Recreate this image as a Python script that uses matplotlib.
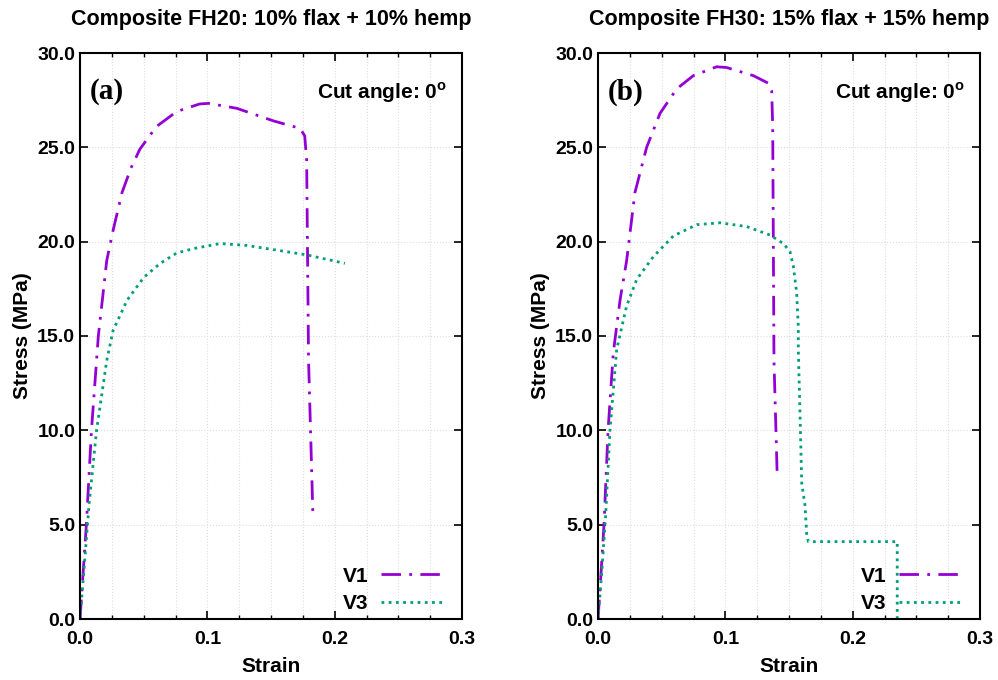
import numpy as np
import matplotlib
matplotlib.use("Agg")
import matplotlib.pyplot as plt
from matplotlib.ticker import MultipleLocator, FormatStrFormatter

plt.rcParams['font.family'] = ['Liberation Sans', 'DejaVu Sans']
plt.rcParams['font.weight'] = 'bold'
plt.rcParams['mathtext.fontset'] = 'custom'
plt.rcParams['mathtext.rm'] = 'Liberation Sans:bold'
plt.rcParams['mathtext.bf'] = 'Liberation Sans:bold'

# Data (strain, stress in MPa)
fh20_v1_strain = [0.0, 0.002, 0.005, 0.009, 0.0144, 0.021, 0.026, 0.033, 0.040, 0.047, 0.060,
                  0.076, 0.094, 0.101, 0.123, 0.152, 0.173, 0.1765, 0.178, 0.1795, 0.183]
fh20_v1_stress = [0.0, 2.0, 5.0, 10.0, 15.0, 19.0, 20.6, 22.6, 23.9, 24.9, 26.1,
                  26.9, 27.3, 27.33, 27.07, 26.4, 26.0, 25.6, 24.3, 13.7, 5.3]

fh20_v3_strain = [0.0, 0.003, 0.007, 0.013, 0.021, 0.026, 0.037, 0.050, 0.063, 0.076,
                  0.089, 0.110, 0.131, 0.1545, 0.178, 0.208]
fh20_v3_stress = [0.0, 2.5, 6.0, 10.0, 13.7, 15.3, 16.9, 18.1, 18.85, 19.4,
                  19.63, 19.9, 19.8, 19.55, 19.3, 18.85]

fh30_v1_strain = [0.0, 0.002, 0.0047, 0.0079, 0.012, 0.0173, 0.0225, 0.029, 0.0382, 0.0487,
                  0.0618, 0.0749, 0.0932, 0.101, 0.122, 0.1337, 0.1364, 0.1372, 0.1382, 0.1408]
fh30_v1_stress = [0.0, 2.0, 5.0, 10.0, 14.1, 16.9, 19.0, 22.6, 25.0, 26.8,
                  28.1, 28.8, 29.27, 29.23, 28.8, 28.4, 28.0, 26.1, 13.7, 7.45]

fh30_v3_strain = [0.0, 0.003, 0.006, 0.0094, 0.0147, 0.0225, 0.0304, 0.0434, 0.0591, 0.0775,
                  0.0958, 0.1168, 0.1351, 0.1456, 0.1508, 0.1534, 0.156, 0.1573, 0.1573,
                  0.1587, 0.160, 0.1626, 0.164, 0.1652, 0.2350, 0.2350]
fh30_v3_stress = [0.0, 2.5, 5.5, 10.0, 14.3, 16.6, 18.0, 19.2, 20.3, 20.9,
                  21.0, 20.8, 20.35, 19.9, 19.47, 18.7, 17.3, 15.5, 14.3,
                  10.7, 7.2, 6.0, 4.4, 4.1, 4.1, 0.0]

panels = [
    ("Composite FH20: 10% flax + 10% hemp", "(a)",
     fh20_v1_strain, fh20_v1_stress, fh20_v3_strain, fh20_v3_stress),
    ("Composite FH30: 15% flax + 15% hemp", "(b)",
     fh30_v1_strain, fh30_v1_stress, fh30_v3_strain, fh30_v3_stress),
]

fig = plt.figure(figsize=(9.98, 6.8), dpi=100)
lefts = [80 / 998, 598 / 998]

for left, (title, tag, x1, y1, x3, y3) in zip(lefts, panels):
    ax = fig.add_axes([left, 61 / 680, 382 / 998, 566 / 680])
    ax.plot(x1, y1, color="#9400d3", lw=2.0, linestyle=(0, (7, 3, 1, 3)), label="V1")
    ax.plot(x3, y3, color="#009e73", lw=2.0, linestyle=(0, (1, 1.6)), label="V3")

    ax.set_xlim(0, 0.3)
    ax.set_ylim(0, 30)
    ax.xaxis.set_major_locator(MultipleLocator(0.1))
    ax.xaxis.set_minor_locator(MultipleLocator(0.025))
    ax.yaxis.set_major_locator(MultipleLocator(5))
    ax.xaxis.set_major_formatter(FormatStrFormatter("%.1f"))
    ax.yaxis.set_major_formatter(FormatStrFormatter("%.1f"))
    ax.tick_params(which="both", direction="in", top=True, right=True, labelsize=14)
    ax.tick_params(which="major", length=6, width=1.2)
    ax.tick_params(which="minor", length=3, width=1.0)
    ax.tick_params(axis="x", pad=9)
    ax.grid(True, which="both", axis="x", color="#dddddd", linestyle=":", linewidth=0.8)
    ax.grid(True, which="major", axis="y", color="#dddddd", linestyle=":", linewidth=0.8)
    for s in ax.spines.values():
        s.set_linewidth(1.5)

    ax.set_title(title, fontsize=15.5, fontweight="bold", pad=20)
    ax.set_xlabel("Strain", fontsize=15, fontweight="bold", labelpad=6)
    ax.set_ylabel("Stress (MPa)", fontsize=15, fontweight="bold", labelpad=4)

    ax.text(0.025, 0.955, tag, transform=ax.transAxes, fontsize=21, fontweight="bold",
            family="Liberation Serif", va="top", ha="left")
    ax.text(0.96, 0.93, r"Cut angle: 0$^{\mathrm{o}}$", transform=ax.transAxes,
            fontsize=15, fontweight="bold", va="center", ha="right")

    ax.legend(loc="lower right", bbox_to_anchor=(0.985, -0.015), frameon=False,
              markerfirst=False, handlelength=2.9, fontsize=15, labelspacing=0.4,
              handletextpad=0.6, borderaxespad=0.3)

fig.savefig("out.png", dpi=100)
